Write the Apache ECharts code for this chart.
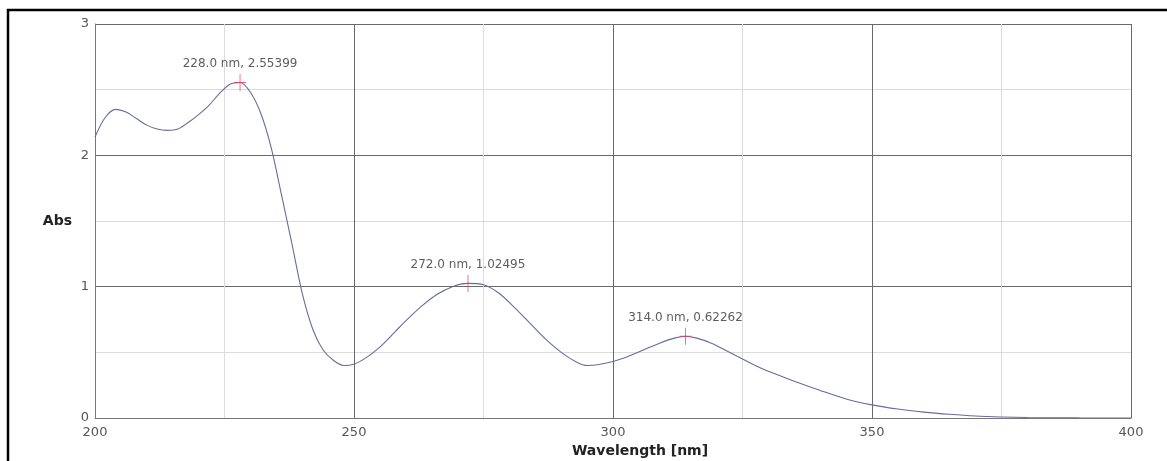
<!DOCTYPE html>
<html>
<head>
<meta charset="utf-8">
<script src="https://cdn.jsdelivr.net/npm/echarts@6/dist/echarts.min.js"></script>
<style>html,body{margin:0;padding:0;background:#fff}#c{width:1167px;height:461px}</style>
</head>
<body>
<div id="c"></div>
<script>
const wavelengths = [200,202,204,206,208,210,212,214,216,218,220,222,224,226,228,230,232,234,236,238,240,242,244,246,248,250,252,255,258,260,263,266,269,272,275,278,281,284,287,290,293,295,297,300,303,306,309,312,314,316,319,322,325,328,331,335,340,345,350,355,360,365,370,375,380,390,400];
const absorbance = [2.14,2.29,2.35,2.33,2.28,2.23,2.20,2.19,2.20,2.25,2.31,2.38,2.47,2.54,2.554,2.48,2.32,2.06,1.70,1.33,0.95,0.68,0.52,0.44,0.40,0.41,0.45,0.54,0.66,0.74,0.85,0.94,1.00,1.025,1.015,0.95,0.84,0.72,0.60,0.50,0.425,0.40,0.405,0.43,0.47,0.52,0.57,0.61,0.623,0.61,0.57,0.51,0.45,0.39,0.34,0.28,0.21,0.145,0.10,0.068,0.045,0.028,0.015,0.008,0.004,0.001,0.0];
const peakWavelengths = [228.0, 272.0, 314.0];
const peakAbs = [2.55399, 1.02495, 0.62262];
const peakLabels = ['228.0 nm, 2.55399', '272.0 nm, 1.02495', '314.0 nm, 0.62262'];
const xTickLabels = ['200', '250', '300', '350', '400'];
const yTickLabels = ['0', '1', '2', '3'];

const chart = echarts.init(document.getElementById('c'));
const font = 'DejaVu Sans';
chart.setOption({
  animation: false,
  backgroundColor: '#fff',
  grid: { left: 95, right: 36, top: 24, bottom: 43, outerBoundsMode: 'none', containLabel: false },
  graphic: [{
    type: 'polyline',
    shape: { points: [[8, 461], [8, 10], [1167, 10]] },
    style: { stroke: '#000', lineWidth: 2.5, fill: null }
  }],
  xAxis: {
    type: 'value', min: 200, max: 400, interval: 25,
    name: 'Wavelength [nm]', nameLocation: 'middle', nameGap: 24,
    nameTextStyle: { fontFamily: font, fontWeight: 'bold', fontSize: 14, color: '#222', padding: [0, 0, 0, 54] },
    axisLine: { lineStyle: { color: '#777' } },
    axisTick: { show: false },
    axisLabel: {
      margin: 8, fontFamily: font, fontSize: 13, color: '#555',
      formatter: v => xTickLabels.includes(String(v)) ? String(v) : ''
    },
    splitLine: { show: true, lineStyle: { color: ['#6a6a6a', '#dcdcdc'], width: 1 } }
  },
  yAxis: {
    type: 'value', min: 0, max: 3, interval: 0.5,
    name: 'Abs', nameLocation: 'middle', nameGap: 23, nameRotate: 0,
    nameTextStyle: { fontFamily: font, fontWeight: 'bold', fontSize: 14, color: '#222', padding: [16, 0, 0, 0] },
    axisLine: { show: true, lineStyle: { color: '#777' } },
    axisTick: { show: false },
    axisLabel: {
      margin: 6, fontFamily: font, fontSize: 13, color: '#555',
      formatter: v => yTickLabels.includes(String(v)) ? String(v) : ''
    },
    splitLine: { show: true, lineStyle: { color: ['#6a6a6a', '#dcdcdc'], width: 1 } }
  },
  series: [{
    type: 'line',
    data: wavelengths.map((w, i) => [w, absorbance[i]]),
    smooth: 0.3,
    showSymbol: false,
    lineStyle: { color: '#6a6a9c', width: 1.1 }
  }, {
    type: 'scatter',
    data: peakWavelengths.map((w, i) => [w, peakAbs[i]]),
    symbol: 'path://M-0.07,-1H0.07V1H-0.07Z M-1,-0.06H1V0.06H-1Z',
    symbolSize: [12, 17],
    itemStyle: { color: '#e03858' },
    label: {
      show: true, position: 'top', distance: 4,
      fontFamily: font, fontSize: 12, color: '#333',
      formatter: p => peakLabels[p.dataIndex]
    },
    z: 5
  }]
});
</script>
</body>
</html>
